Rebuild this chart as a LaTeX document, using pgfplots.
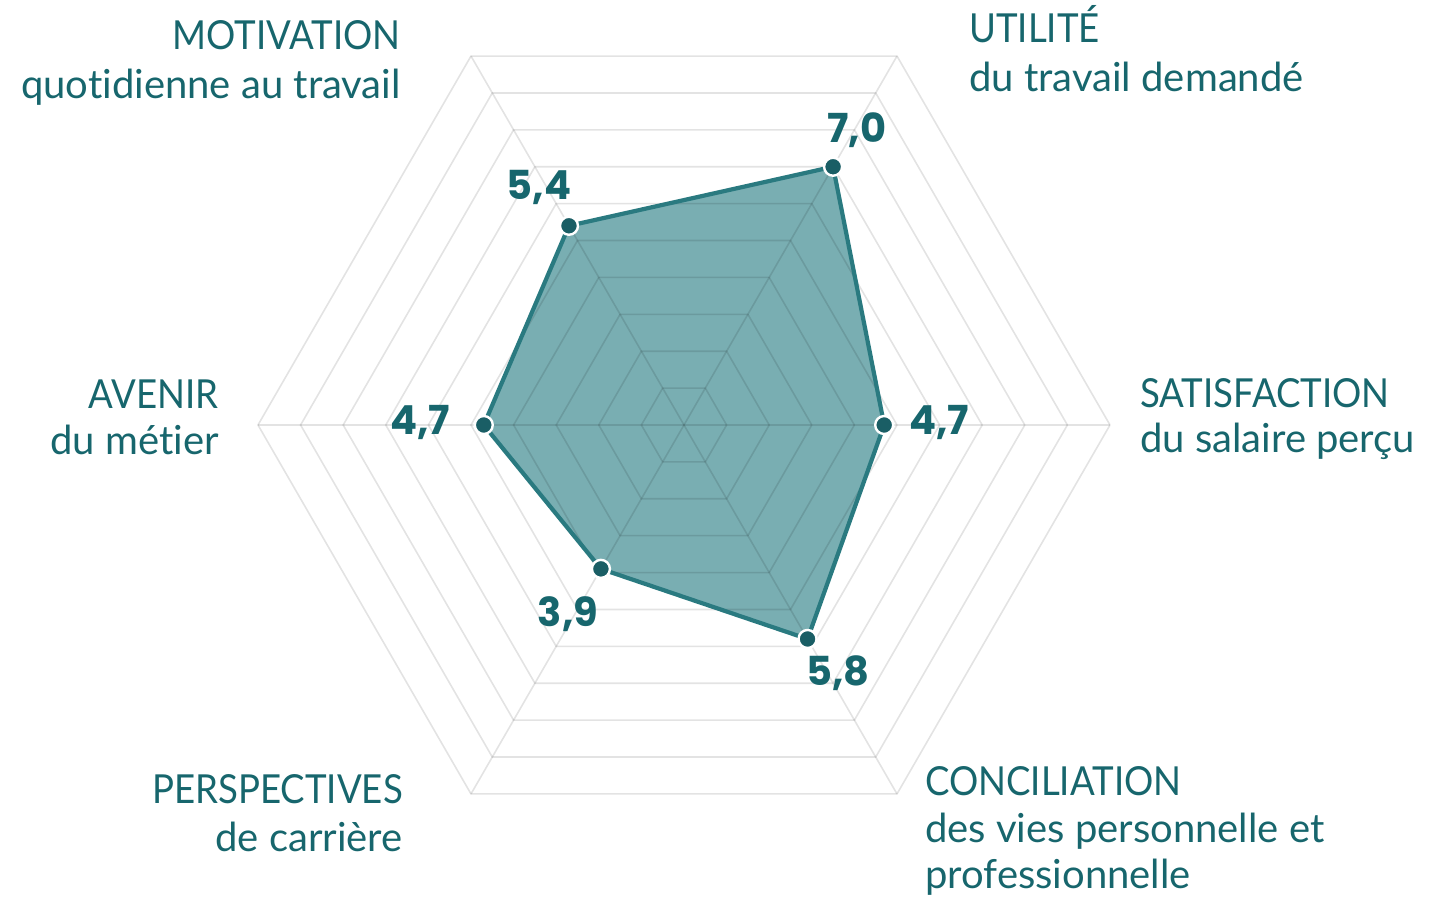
\documentclass[border=0pt]{standalone}
\usepackage{pgfplots}
\pgfplotsset{compat=1.18}
\usepackage{fontspec}
\setmainfont[Ligatures=NoCommon]{Lato}
\newfontfamily\capsfont[FakeStretch=0.915]{Lato}
\newfontfamily\numfont{Poppins}
\definecolor{txt}{HTML}{17666D}
\definecolor{fillc}{HTML}{79AEB2}
\definecolor{linec}{HTML}{2A7A80}
\definecolor{markc}{HTML}{1A5E65}
\begin{document}
\begin{tikzpicture}[x=1pt,y=1pt]
\useasboundingbox (-684,-477) rectangle (760,425);
\begin{axis}[
  at={(0,0)}, anchor=center,
  x=42.6pt, y=42.6pt,
  xmin=-10, xmax=10, ymin=-10, ymax=10,
  hide axis, clip=false,
  data cs=polar,
]
% data
\addplot[fill=fillc, draw=none, data cs=polar] coordinates {(120,5.4) (60,7.0) (0,4.7) (300,5.8) (240,3.9) (180,4.7) (120,5.4)} -- cycle;
% grid
\foreach \r in {1,...,10}{
 \addplot[black, draw opacity=0.11, line width=1.6pt, data cs=polar] coordinates {(0,\r) (60,\r) (120,\r) (180,\r) (240,\r) (300,\r) (360,\r)};
}
\addplot[black, draw opacity=0.11, line width=1.6pt, data cs=polar] coordinates {(0,10) (180,10)};
\addplot[black, draw opacity=0.11, line width=1.6pt, data cs=polar] coordinates {(60,10) (240,10)};
\addplot[black, draw opacity=0.11, line width=1.6pt, data cs=polar] coordinates {(120,10) (300,10)};
% outline
\addplot[linec, line width=4.2pt, line join=round, data cs=polar] coordinates {(120,5.4) (60,7.0) (0,4.7) (300,5.8) (240,3.9) (180,4.7) (120,5.4)} -- cycle;
\addplot[only marks, mark=*, mark size=9pt, mark options={fill=markc, draw=white, line width=2.4pt}, data cs=polar] coordinates {(120,5.4) (60,7.0) (0,4.7) (300,5.8) (240,3.9) (180,4.7)};
\end{axis}
\begin{scope}[every node/.style={text=txt, inner sep=0pt, font=\fontsize{40}{48}\selectfont}]
\node[anchor=base east, font=\capsfont\fontsize{40}{48}\selectfont] at (-283,375) {MOTIVATION};
\node[anchor=base east] at (-283,326) {quot\kern0pt idienne au travail};
\node[anchor=base west, font=\capsfont\fontsize{40}{48}\selectfont] at (285,382) {UTILITÉ};
\node[anchor=base west] at (285,333) {du travail demandé};
\node[anchor=base west, font=\capsfont\fontsize{40}{48}\selectfont] at (456,17) {SATISFACTION};
\node[anchor=base west] at (456,-28) {du salaire perçu};
\node[anchor=base west, font=\capsfont\fontsize{40}{48}\selectfont] at (241,-370) {CONCILIATION};
\node[anchor=base west] at (241,-417) {des vies personnelle et};
\node[anchor=base west] at (241,-463) {professionnelle};
\node[anchor=base east, font=\capsfont\fontsize{40}{48}\selectfont] at (-281,-378) {PERSPECTIVES};
\node[anchor=base east] at (-281,-426) {de carrière};
\node[anchor=base east, font=\capsfont\fontsize{40}{48}\selectfont] at (-465,16) {AVENIR};
\node[anchor=base east] at (-465,-30) {du mét\kern0pt ier};
\end{scope}
\begin{scope}[every node/.style={text=txt, inner sep=0pt, anchor=base, font=\numfont\bfseries\fontsize{40}{48}\selectfont}]
\node at (173,282) {7,0};
\node at (-145,225) {5,4};
\node at (255,-10) {4,7};
\node at (-264,-10) {4,7};
\node at (-116,-201) {3,9};
\node at (154,-260) {5,8};
\end{scope}
\end{tikzpicture}
\end{document}
